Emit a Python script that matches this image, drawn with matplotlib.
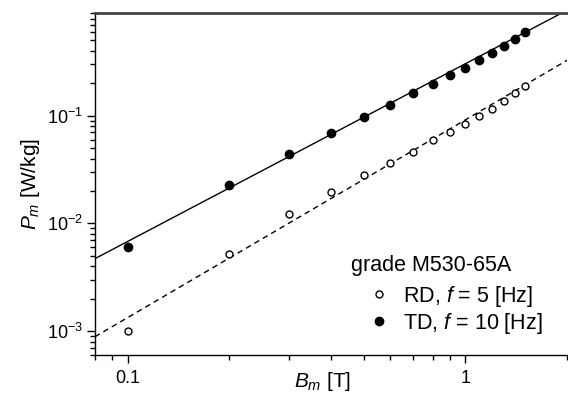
import numpy as np
import matplotlib.pyplot as plt
from matplotlib.ticker import LogLocator, FixedLocator, FixedFormatter, NullFormatter

plt.rcParams['font.family'] = 'Liberation Sans'
plt.rcParams['mathtext.fontset'] = 'custom'
plt.rcParams['mathtext.rm'] = 'Liberation Sans'
plt.rcParams['mathtext.it'] = 'Liberation Sans:italic'

# peak flux density [T]
b_vals = [0.1, 0.2, 0.3, 0.4, 0.5, 0.6, 0.7, 0.8, 0.9, 1.0, 1.1, 1.2, 1.3, 1.4, 1.5]
# RD, f = 5 Hz
p_rd = [0.0010, 0.0052, 0.0122, 0.0196, 0.028, 0.0367, 0.0464, 0.0596, 0.0713,
        0.0846, 0.0996, 0.115, 0.137, 0.162, 0.189]
# TD, f = 10 Hz
p_td = [0.0060, 0.0227, 0.0438, 0.0688, 0.098, 0.127, 0.161, 0.197, 0.238,
        0.280, 0.328, 0.379, 0.449, 0.521, 0.605]

# power-law fits P = a * B^n
fit_td = (0.304, 1.65)
fit_rd = (0.0916, 1.836)

x_lim = (0.08, 2.0)
y_lim = (6e-4, 0.9)

fig = plt.figure(figsize=(5.68, 3.99), dpi=100)
ax = fig.add_axes([95/568, 1 - 355/399, (567 - 95)/568, (355 - 13)/399])

b_line = np.array(x_lim)
ax.plot(b_line, fit_td[0] * b_line ** fit_td[1], color='black', lw=1.0)
ax.plot(b_line, fit_rd[0] * b_line ** fit_rd[1], color='black', lw=1.0, dashes=(4, 3))

ax.plot(b_vals, p_rd, 'o', mfc='white', mec='black', mew=1.0, ms=5,
        label=r'RD, $f$ = 5 [Hz]')
ax.plot(b_vals, p_td, 'o', mfc='black', mec='black', ms=6,
        label=r'TD, $f$ = 10 [Hz]')

ax.set_xscale('log')
ax.set_yscale('log')
ax.set_xlim(*x_lim)
ax.set_ylim(*y_lim)

ax.xaxis.set_major_locator(FixedLocator([0.1, 1]))
ax.xaxis.set_major_formatter(FixedFormatter(['0.1', '1']))
ax.xaxis.set_minor_locator(LogLocator(base=10, subs=np.arange(2, 10)))
ax.xaxis.set_minor_formatter(NullFormatter())
ax.yaxis.set_minor_locator(LogLocator(base=10, subs=np.arange(2, 10), numticks=20))
ax.yaxis.set_minor_formatter(NullFormatter())

ax.tick_params(which='major', direction='out', length=6, width=1, labelsize=13,
               colors='black')
ax.tick_params(which='minor', direction='out', length=3.5, width=1)
ax.tick_params(axis='x', which='major', pad=5)
ax.tick_params(axis='y', which='major', pad=2.5)

ax.spines['right'].set_visible(False)
ax.spines['top'].set_color('#444444')
ax.spines['top'].set_linewidth(2)
ax.spines['left'].set_linewidth(1)
ax.spines['bottom'].set_linewidth(1)

ax.set_xlabel(r'$B_m$ [T]', fontsize=15)
ax.xaxis.set_label_coords(0.483, -0.045)
ax.set_ylabel(r'$P_m$ [W/kg]', fontsize=15)
ax.yaxis.set_label_coords(-0.112, 0.5)

ax.text(257/473, 0.263, 'grade M530-65A', transform=ax.transAxes, fontsize=15.5,
        ha='left', va='center')
ax.legend(loc='upper left', bbox_to_anchor=(276/473, 0.208), frameon=False,
          fontsize=15.5, handlelength=0.8, handletextpad=0.7, labelspacing=0.1,
          borderaxespad=0, borderpad=0)

fig.savefig('out.png', dpi=100)
